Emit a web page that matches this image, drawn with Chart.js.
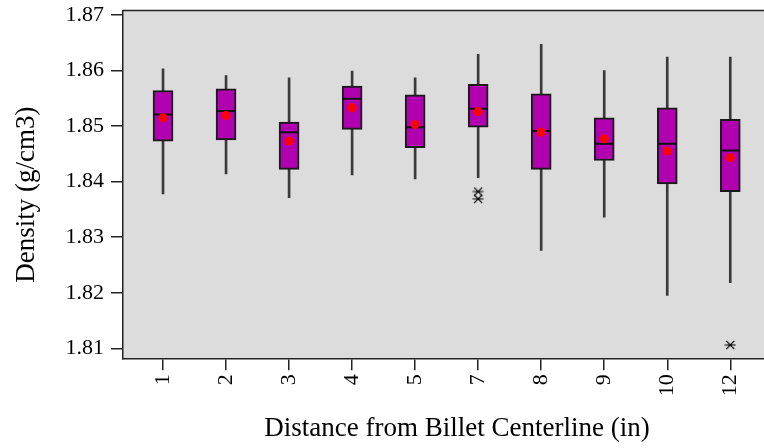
<!DOCTYPE html>
<html>
<head>
<meta charset="utf-8">
<script src="https://cdn.jsdelivr.net/npm/chart.js@4.4.1/dist/chart.umd.min.js"></script>
<style>
html,body{margin:0;padding:0;background:#fff;overflow:hidden}
</style>
</head>
<body>
<canvas id="myChart" width="764" height="448"></canvas>
<script>
// distance categories (in)
const categories=['1','2','3','4','5','7','8','9','10','12']
// box plot stats, density g/cm3
const whiskerLow =[1.8378,1.8414,1.8371,1.8412,1.8405,1.8407,1.8276,1.8336,1.8195,1.8218]
const q1         =[1.8473,1.8475,1.8422,1.8494,1.8461,1.8498,1.8422,1.8438,1.8396,1.8382]
const median     =[1.8521,1.8527,1.8489,1.8549,1.8498,1.8531,1.8491,1.8468,1.8468,1.8456]
const q3         =[1.8564,1.8567,1.8507,1.8572,1.8556,1.8575,1.8558,1.8515,1.8533,1.8512]
const whiskerHigh=[1.8603,1.8591,1.8587,1.8599,1.8587,1.8629,1.8647,1.8600,1.8624,1.8624]
const mean       =[1.8515,1.8519,1.8473,1.8533,1.8503,1.8526,1.8489,1.8477,1.8455,1.8443]
// outliers: category index + value
const outlierIndex=[5,5,9]
const outlierValue=[1.8382,1.8369,1.8106]
const yTicks=[1.81,1.82,1.83,1.84,1.85,1.86,1.87]

Chart.defaults.font.family="'Liberation Serif','Times New Roman',serif"
Chart.defaults.color='#000'

// asterisk marker like the one minitab draws
function star_image(){
    let c=document.createElement('canvas')
    c.width=12;c.height=10
    let g=c.getContext('2d')
    g.strokeStyle='#000';g.lineWidth=1.2
    g.beginPath()
    g.moveTo(0.5,5);g.lineTo(11.5,5)
    g.moveTo(2,0.8);g.lineTo(10,9.2)
    g.moveTo(10,0.8);g.lineTo(2,9.2)
    g.stroke()
    return c
}

const idx=categories.map((c,i)=>i)

const panelPlugin={
    id:'panel',
    beforeDraw(chart){
        let {ctx,chartArea:a}=chart
        ctx.save()
        ctx.fillStyle='#dcdcdc'
        ctx.fillRect(a.left,a.top,a.right-a.left,a.bottom-a.top)
        ctx.restore()
    },
    afterDraw(chart){
        // top frame line, no right one (plot runs off the edge)
        let {ctx,chartArea:a}=chart
        ctx.save()
        ctx.strokeStyle='#222';ctx.lineWidth=1.5
        ctx.beginPath()
        ctx.moveTo(a.left,a.top);ctx.lineTo(a.right,a.top)
        ctx.stroke()
        ctx.restore()
    }
}

new Chart(document.getElementById('myChart'),{
    type:'bar',
    data:{
        datasets:[
            {   // whiskers
                data:idx.map(i=>({x:i,y:[whiskerLow[i],whiskerHigh[i]]})),
                backgroundColor:'#3a3a3a',
                barThickness:2,
                grouped:false,
                order:5
            },
            {   // boxes
                data:idx.map(i=>({x:i,y:[q1[i],q3[i]]})),
                backgroundColor:'#b000b0',
                borderColor:'#1a1a1a',
                borderWidth:2,
                borderSkipped:false,
                barThickness:20,
                grouped:false,
                order:4
            },
            {
                type:'scatter',
                data:idx.map(i=>({x:i,y:median[i]})),
                pointStyle:'line',
                radius:9.5,
                borderColor:'#111',
                borderWidth:2,
                order:3
            },
            {
                type:'scatter',
                data:idx.map(i=>({x:i,y:mean[i]})),
                pointStyle:'circle',
                radius:4.5,
                backgroundColor:'#ff0000',
                borderWidth:0,
                order:2
            },
            {
                type:'scatter',
                data:outlierIndex.map((k,j)=>({x:k,y:outlierValue[j]})),
                pointStyle:star_image(),
                order:1
            }
        ]
    },
    options:{
        responsive:false,
        animation:false,
        events:[],
        layout:{padding:0,autoPadding:false},
        plugins:{legend:{display:false},tooltip:{enabled:false}},
        scales:{
            x:{
                type:'linear',
                offset:false,
                min:-0.635,
                max:9.535,
                afterBuildTicks:s=>{s.ticks=idx.map(v=>({value:v}))},
                afterFit:s=>{s.height=89.7;s.paddingRight=0;s.paddingLeft=0},
                ticks:{
                    callback:v=>categories[v],
                    minRotation:90,maxRotation:90,
                    padding:4,
                    font:{size:22}
                },
                grid:{offset:false,drawOnChartArea:false,drawTicks:true,tickLength:12,color:'#222',lineWidth:1.5},
                border:{display:true,color:'#222',width:1.5},
                title:{display:true,text:'    Distance from Billet Centerline (in)',font:{size:27},padding:{top:0,bottom:3}}
            },
            y:{
                min:1.8082,
                max:1.8708,
                afterBuildTicks:s=>{s.ticks=yTicks.map(v=>({value:v}))},
                afterFit:s=>{s.width=123;s.paddingTop=10.5;s.paddingBottom=0},
                ticks:{
                    callback:v=>v.toFixed(2),
                    padding:7,
                    font:{size:22}
                },
                grid:{drawOnChartArea:false,drawTicks:true,tickLength:12,color:'#222',lineWidth:1.5},
                border:{display:true,color:'#222',width:1.5},
                title:{display:true,text:'Density (g/cm3)   ',font:{size:27},padding:{top:11,bottom:0}}
            }
        }
    },
    plugins:[panelPlugin]
})
</script>
</body>
</html>
